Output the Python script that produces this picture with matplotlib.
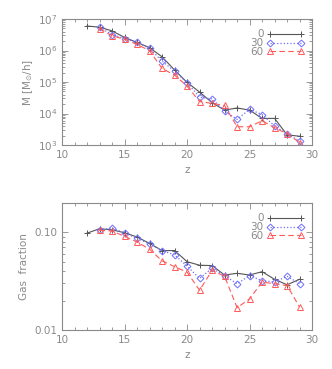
import matplotlib
matplotlib.use("Agg")
import matplotlib.pyplot as plt
from matplotlib.ticker import MultipleLocator, LogLocator, FixedLocator, NullFormatter
import numpy as np

z0 = [12, 13, 14, 15, 16, 17, 18, 19, 20, 21, 22, 23, 24, 25, 26, 27, 28, 29]
z = [13, 14, 15, 16, 17, 18, 19, 20, 21, 22, 23, 24, 25, 26, 27, 28, 29]

mass_0 = [6.0e6, 5.5e6, 4.2e6, 2.6e6, 1.8e6, 1.23e6, 6.3e5, 2.4e5, 9.7e4, 4.8e4, 2.2e4, 1.28e4,
          1.5e4, 1.28e4, 7.0e3, 7.0e3, 2.1e3, 1.9e3]
mass_30 = [5.5e6, 3.2e6, 2.4e6, 1.8e6, 1.17e6, 4.6e5, 2.2e5, 9.5e4, 3.3e4, 2.9e4, 1.2e4, 6.5e3,
           1.35e4, 9.3e3, 4.0e3, 2.3e3, 1.3e3]
mass_60 = [4.9e6, 2.95e6, 2.25e6, 1.57e6, 9.8e5, 2.7e5, 1.65e5, 7.4e4, 2.4e4, 2.1e4, 1.8e4, 3.8e3,
           3.8e3, 5.9e3, 3.5e3, 2.3e3, 1.2e3]

gas_0 = [0.098, 0.109, 0.106, 0.099, 0.0895, 0.077, 0.065, 0.065, 0.050, 0.046, 0.0456, 0.0365,
         0.038, 0.0365, 0.0395, 0.033, 0.029, 0.033]
gas_30 = [0.105, 0.111, 0.098, 0.0867, 0.076, 0.065, 0.0587, 0.045, 0.0337, 0.0428, 0.0359, 0.0297,
          0.036, 0.0319, 0.031, 0.0354, 0.0297]
gas_60 = [0.105, 0.103, 0.091, 0.0795, 0.067, 0.051, 0.0445, 0.039, 0.0255, 0.0407, 0.0354, 0.0169,
          0.0208, 0.0309, 0.0297, 0.0285, 0.0171]

labels = ["0", "30", "60"]

GRAY = "#8a8a8a"
C0 = "#555555"
C30 = "#6e6eff"
C60 = "#ff5a5a"

plt.rcParams['font.family'] = ['DejaVu Sans']
plt.rcParams['font.size'] = 7.5
plt.rcParams['mathtext.default'] = 'regular'

fig = plt.figure(figsize=(3.32, 3.69), dpi=100)
ax1 = fig.add_axes([0.187, 0.607, 0.753, 0.3415])
ax2 = fig.add_axes([0.187, 0.106, 0.753, 0.344])

def style(ax):
    for s in ax.spines.values():
        s.set_color(GRAY)
        s.set_linewidth(0.8)
    ax.tick_params(which='both', direction='in', top=True, right=True, colors=GRAY,
                   labelcolor=GRAY, width=0.6)
    ax.tick_params(which='major', length=4)
    ax.tick_params(which='minor', length=2)
    ax.set_xlim(10, 30)
    ax.xaxis.set_major_locator(MultipleLocator(5))
    ax.xaxis.set_minor_locator(MultipleLocator(1))
    ax.set_xlabel("z", color=GRAY)

def plot_series(ax, y0, y30, y60):
    ax.plot(z0, y0, color=C0, lw=0.8, marker='+', ms=5, mew=0.7, label=labels[0])
    ax.plot(z, y30, color=C30, lw=0.9, ls=':', marker='D', ms=3.5, mfc='none',
            mew=0.7, label=labels[1])
    ax.plot(z, y60, color=C60, lw=0.8, ls=(0, (5, 3)), marker='^', ms=4.5, mfc='none',
            mew=0.7, label=labels[2])
    leg = ax.legend(loc='upper right', frameon=False, markerfirst=False, numpoints=2,
                    handlelength=3.6, handletextpad=0.3, labelspacing=-0.12,
                    borderaxespad=0.0, bbox_to_anchor=(0.985, 0.95), fontsize=7.5)
    for t in leg.get_texts():
        t.set_color(GRAY)

# top panel
ax1.set_yscale('log')
ax1.set_ylim(1e3, 1e7)
plot_series(ax1, mass_0, mass_30, mass_60)
style(ax1)
ax1.yaxis.set_minor_locator(LogLocator(base=10, subs=np.arange(2, 10)))
ax1.yaxis.set_minor_formatter(NullFormatter())
ax1.set_ylabel(r"M [M$_{\odot}$/h]", color=GRAY, labelpad=2)

# bottom panel
ax2.set_yscale('log')
ax2.set_ylim(0.01, 0.2)
plot_series(ax2, gas_0, gas_30, gas_60)
style(ax2)
ax2.yaxis.set_major_locator(FixedLocator([0.01, 0.1]))
ax2.set_yticklabels(["0.01", "0.10"])
ax2.yaxis.set_minor_locator(LogLocator(base=10, subs=np.arange(2, 10)))
ax2.yaxis.set_minor_formatter(NullFormatter())
ax2.set_ylabel("Gas  fraction", color=GRAY)

fig.savefig("out.png", dpi=100)
